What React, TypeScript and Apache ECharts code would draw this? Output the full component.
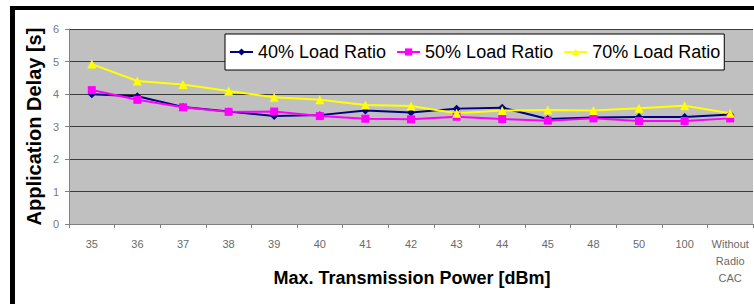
import React, { useEffect, useRef } from "react";
import * as echarts from "echarts";

const categories = ["35", "36", "37", "38", "39", "40", "41", "42", "43", "44", "45", "48", "50", "100", "Without\nRadio\nCAC"];
const load40 = [3.99, 3.93, 3.6, 3.46, 3.32, 3.35, 3.49, 3.43, 3.55, 3.58, 3.23, 3.28, 3.29, 3.29, 3.37];
const load50 = [4.12, 3.82, 3.59, 3.45, 3.46, 3.32, 3.24, 3.22, 3.3, 3.23, 3.18, 3.25, 3.17, 3.17, 3.25];
const load70 = [4.92, 4.4, 4.29, 4.09, 3.9, 3.82, 3.66, 3.63, 3.41, 3.49, 3.51, 3.49, 3.56, 3.64, 3.41];
const seriesNames = ["40% Load Ratio", "50% Load Ratio", "70% Load Ratio"];
const yTicks = [0, 1, 2, 3, 4, 5, 6];
const xTitle = "Max. Transmission Power [dBm]";
const yTitle = "Application Delay [s]";

const FONT = "Liberation Sans, Arial, sans-serif";

export default function App() {
  const ref = useRef<HTMLDivElement>(null);
  useEffect(() => {
    if (!ref.current) return;
    const chart = echarts.init(ref.current, undefined, { renderer: "svg" });
    const mk = (name: string, data: number[], color: string, symbol: string, size: number) => ({
      name,
      type: "line",
      data,
      symbol,
      symbolSize: size,
      showSymbol: true,
      lineStyle: { color, width: 2 },
      itemStyle: { color, borderWidth: 0 },
    });
    chart.setOption({
      animation: false,
      backgroundColor: "#ffffff",
      textStyle: { fontFamily: FONT },
      grid: {
        left: 69,
        right: 1,
        top: 29,
        bottom: 80,
        containLabel: false,
        outerBoundsMode: "none",
        show: true,
        backgroundColor: "#C0C0C0",
        borderWidth: 0,
      },
      legend: {
        left: 225,
        top: 34,
        data: seriesNames,
        backgroundColor: "#ffffff",
        borderColor: "#000000",
        borderWidth: 1,
        padding: [9, 4, 9, 4],
        itemGap: 10,
        itemWidth: 23,
        itemHeight: 9,
        textStyle: { fontSize: 18, color: "#000000", fontFamily: FONT },
      },
      xAxis: {
        type: "category",
        data: categories,
        boundaryGap: true,
        axisLine: { show: true, lineStyle: { color: "#808080", width: 1 } },
        axisTick: { show: true, inside: false, length: 4, alignWithLabel: false, lineStyle: { color: "#808080" } },
        axisLabel: {
          interval: 0,
          fontSize: 11,
          color: "#6a6a6a",
          margin: 11,
          lineHeight: 17,
          fontFamily: FONT,
        },
        splitLine: { show: false },
      },
      yAxis: {
        type: "value",
        min: yTicks[0],
        max: yTicks[yTicks.length - 1],
        interval: 1,
        axisLine: { show: true, lineStyle: { color: "#808080", width: 1 } },
        axisTick: { show: true, length: 4, lineStyle: { color: "#808080" } },
        axisLabel: { fontSize: 11, color: "#7a7a7a", margin: 10, fontFamily: FONT },
        splitLine: { show: true, lineStyle: { color: "#3a3a3a", width: 1 } },
      },
      graphic: [
        { type: "rect", shape: { x: 10, y: 6, width: 744, height: 4 }, style: { fill: "#000000" }, z: 100 },
        { type: "rect", shape: { x: 10, y: 6, width: 5, height: 298 }, style: { fill: "#000000" }, z: 100 },
        {
          type: "text",
          x: 412,
          y: 278,
          style: {
            text: xTitle,
            fontSize: 18,
            fontWeight: "bold",
            fontFamily: FONT,
            fill: "#000000",
            textAlign: "center",
            textVerticalAlign: "middle",
          },
        },
        {
          type: "text",
          x: 34,
          y: 126.5,
          rotation: Math.PI / 2,
          style: {
            text: yTitle,
            fontSize: 20,
            fontWeight: "bold",
            fontFamily: FONT,
            fill: "#000000",
            textAlign: "center",
            textVerticalAlign: "middle",
          },
        },
      ],
      series: [
        mk(seriesNames[0], load40, "#000080", "diamond", 8),
        mk(seriesNames[1], load50, "#FF00FF", "rect", 8),
        mk(seriesNames[2], load70, "#FFFF00", "triangle", 9),
      ],
    });
    return () => chart.dispose();
  }, []);
  return (
    <div
      ref={ref}
      style={{ position: "fixed", left: 0, top: 0, width: 754, height: 304, background: "#fff" }}
    />
  );
}
